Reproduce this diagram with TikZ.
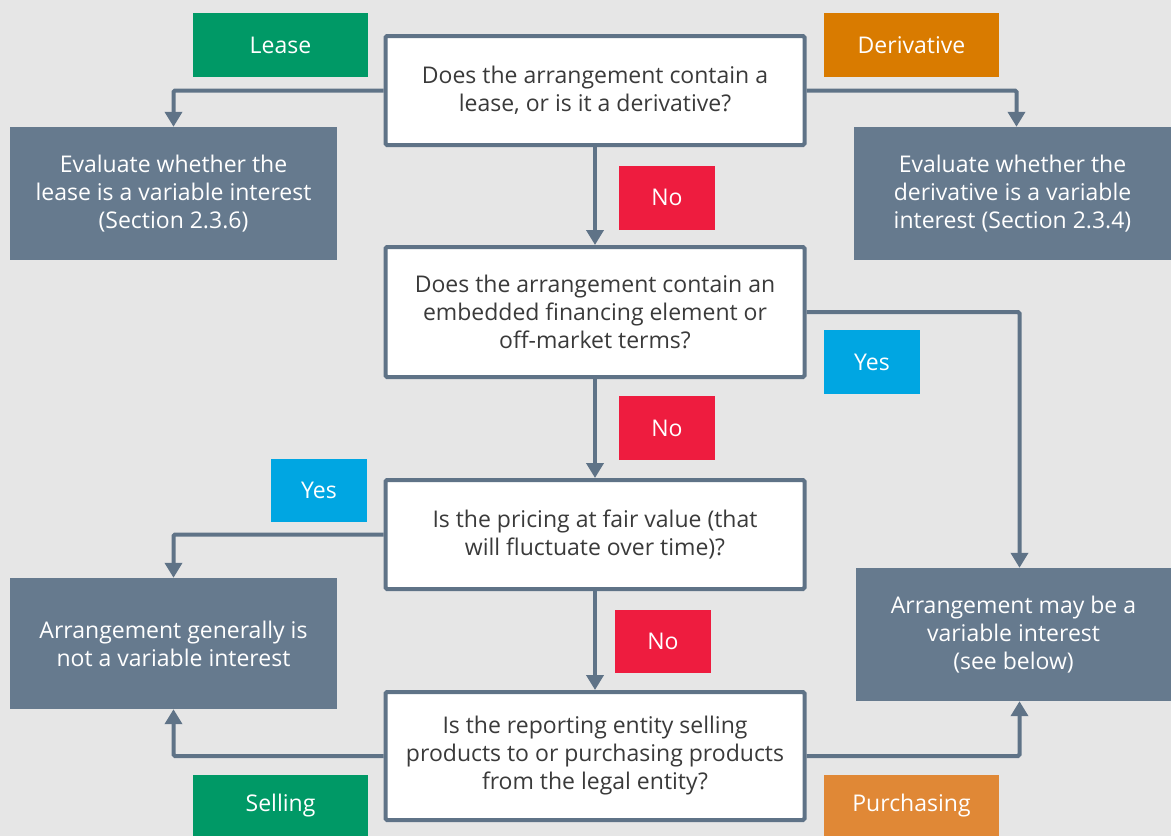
\documentclass[tikz,border=0pt]{standalone}
\usepackage{fontspec}
\setmainfont{Open Sans}
\usetikzlibrary{calc, positioning}
\usetikzlibrary{arrows.meta}

\definecolor{bggray}{HTML}{E6E6E6}
\definecolor{slate}{HTML}{667A8E}
\definecolor{linegray}{HTML}{5F7387}
\definecolor{txtgray}{HTML}{3A3A3A}
\definecolor{leasegreen}{HTML}{009966}
\definecolor{derivorange}{HTML}{D97B00}
\definecolor{purchorange}{HTML}{E08836}
\definecolor{nored}{HTML}{EE1C3F}
\definecolor{yesblue}{HTML}{00A6E2}

\tikzset{
  question/.style={draw=linegray, line width=4pt, rounded corners=1.5pt, fill=white,
    text=txtgray, minimum width=419pt, align=center, font=\fontsize{23}{28}\selectfont},
  outcome/.style={fill=slate, text=white, align=center, font=\fontsize{23}{28}\selectfont},
  tag/.style={text=white, minimum height=64pt, font=\fontsize{23}{26}\selectfont},
  flow/.style={draw=linegray, line width=4pt, rounded corners=1.5pt, -{Triangle[width=17pt,length=15pt]}}
}

\begin{document}
\begin{tikzpicture}[x=1pt, y=-1pt]
\fill[bggray] (0,0) rectangle (1171,836);
\useasboundingbox (0,0) rectangle (1171,836);

% tags
\node[tag, fill=leasegreen, minimum width=175pt] (lease) at (280.5,45) {Lease};
\node[tag, fill=derivorange, minimum width=175pt] (deriv) at (911.5,45) {Derivative};
\node[tag, fill=nored, minimum width=96pt] (noA) at (667,197.5) {No};
\node[tag, fill=yesblue, minimum width=96pt] (yesA) at (872,362) {Yes};
\node[tag, fill=nored, minimum width=96pt] (noB) at (667,428) {No};
\node[tag, fill=yesblue, minimum width=96pt, minimum height=63pt] (yesB) at (319,490.5) {Yes};
\node[tag, fill=nored, minimum width=96pt, minimum height=63pt] (noC) at (663,641.5) {No};
\node[tag, fill=leasegreen, minimum width=175pt, minimum height=61pt] (selling) at (280.5,805.5) {Selling};
\node[tag, fill=purchorange, minimum width=175pt, minimum height=61pt] (purch) at (911.5,805.5) {Purchasing};

% outcomes
\node[outcome, minimum width=327pt, minimum height=133pt] (evalL) at (173.5,193.5)
  {Evaluate whether the\\lease is a variable interest\\(Section 2.3.6)};
\node[outcome, minimum width=317pt, minimum height=133pt] (evalR) at (1012.5,193.5)
  {Evaluate whether the\\derivative is a variable\\interest (Section 2.3.4)};
\node[outcome, minimum width=327pt, minimum height=131pt] (notVI) at (173.5,643.5)
  {Arrangement generally is\\not a variable interest};
\node[outcome, minimum width=315pt, minimum height=133pt] (mayVI) at (1013.5,634.5)
  {Arrangement may be a\\variable interest\\(see below)};

% questions
\node[question, minimum height=109pt] (q1) at (595,90.5)
  {Does the arrangement contain a\\lease, or is it a derivative?};
\node[question, minimum height=130pt] (q2) at (595,312)
  {Does the arrangement contain an\\embedded financing element or\\off-market terms?};
\node[question, minimum height=109pt] (q3) at (595,534.5)
  {Is the pricing at fair value (that\\will fluctuate over time)?};
\node[question, minimum height=128pt] (q4) at (595,756)
  {Is the reporting entity selling\\products to or purchasing products\\from the legal entity?};

% connectors
\draw[flow] (q1.west) -| (evalL.north);
\draw[flow] (q1.east) -| ([xshift=4pt]evalR.north);
\draw[flow] (q1.south) -- (q2.north);
\draw[flow] (q2.east) -| ([xshift=6pt]mayVI.north);
\draw[flow] (q2.south) -- (q3.north);
\draw[flow] (q3.west) -| (notVI.north);
\draw[flow] (q3.south) -- (q4.north);
\draw[flow] (q4.west) -| (notVI.south);
\draw[flow] (q4.east) -| ([xshift=6pt]mayVI.south);
\end{tikzpicture}
\end{document}
